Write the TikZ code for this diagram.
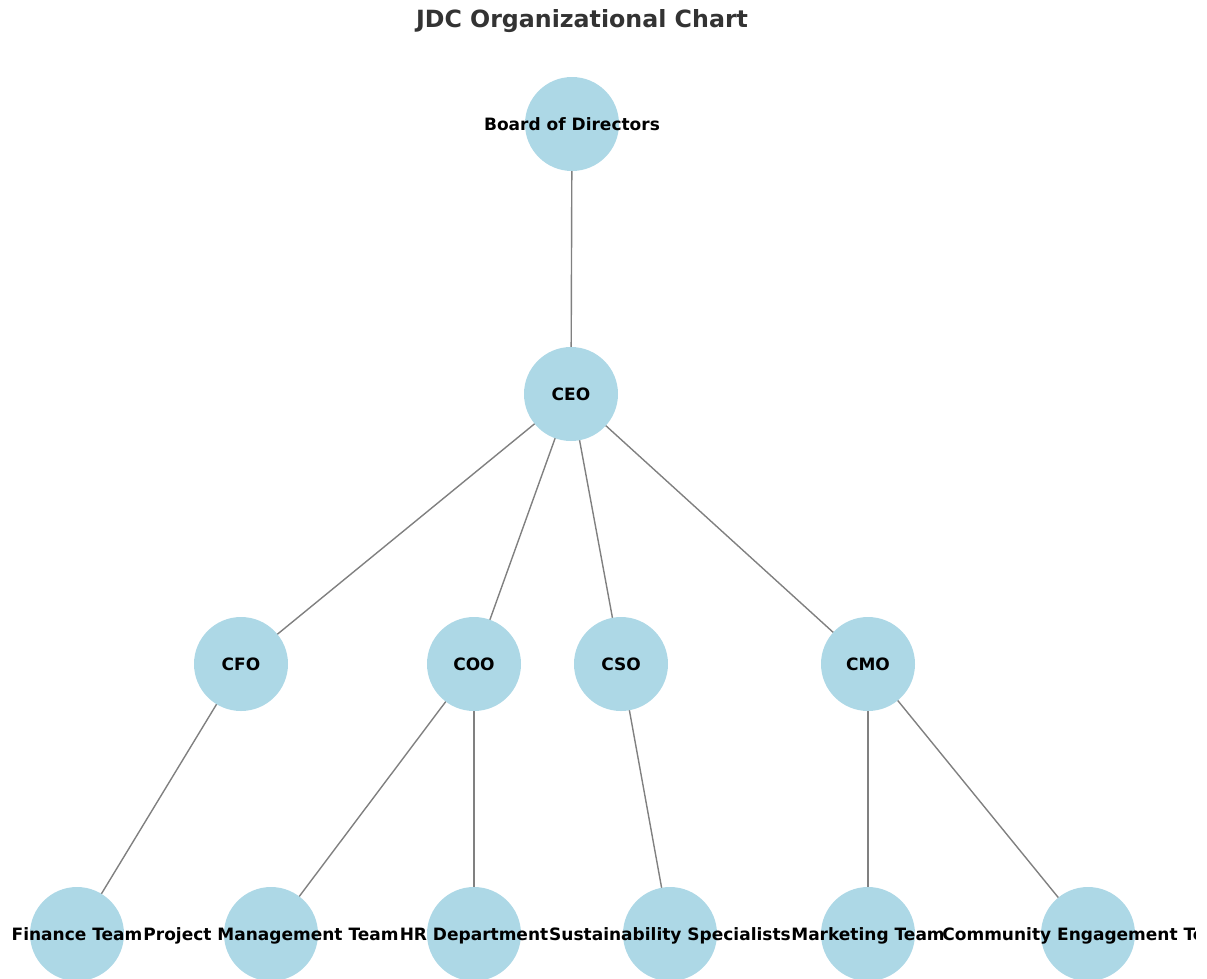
\documentclass[tikz,border=0pt]{standalone}
\usepackage{fontspec}
\setmainfont{DejaVu Sans}
\usepackage{xcolor}
\usetikzlibrary{backgrounds}

\definecolor{nodeblue}{HTML}{ADD8E6}
\definecolor{titlegray}{HTML}{333333}

\begin{document}
\begin{tikzpicture}[x=1pt, y=-1pt,
    member/.style={circle, fill=nodeblue, minimum size=94pt, inner sep=0pt,
        label={[font=\fontsize{17}{20}\selectfont\bfseries, text=black,
            text height=16.2pt, text depth=3.6pt, inner sep=0pt]center:#1}},
    link/.style={gray, line width=1.4pt}]
        % 画布与裁剪
        \useasboundingbox (0,0) rectangle (1207,978);
        \clip (0,0) rectangle (1195,978);
        
        % 标题
        \node[font=\fontsize{23.7}{28}\selectfont\bfseries, text=titlegray] (title) at (582,21) {JDC Organizational Chart};
        
        % 第一、二层
        \node[member={Board of Directors}] (board) at (572,124) {};
        \node[member={CEO}] (ceo) at (571,394) {};
        
        % 高管层
        \node[member={CFO}] (cfo) at (241,664) {};
        \node[member={COO}] (coo) at (474,664) {};
        \node[member={CSO}] (cso) at (621,664) {};
        \node[member={CMO}] (cmo) at (868,664) {};
        
        % 团队层
        \node[member={Finance Team}] (finance) at (77,934) {};
        \node[member={Project Management Team}] (pm) at (271,934) {};
        \node[member={HR Department}] (hr) at (474,934) {};
        \node[member={Sustainability Specialists}] (sust) at (670,934) {};
        \node[member={Marketing Team}] (marketing) at (868,934) {};
        \node[member={Community Engagement Team}] (community) at (1088,934) {};
        
        % 连线 (在节点下方)
        \begin{scope}[on background layer]
            \foreach \a/\b in {board/ceo, ceo/cfo, ceo/coo, ceo/cso, ceo/cmo,
                cfo/finance, coo/pm, coo/hr, cso/sust, cmo/marketing, cmo/community}
                \draw[link] (\a.center) -- (\b.center);
        \end{scope}
    \end{tikzpicture}
\end{document}
